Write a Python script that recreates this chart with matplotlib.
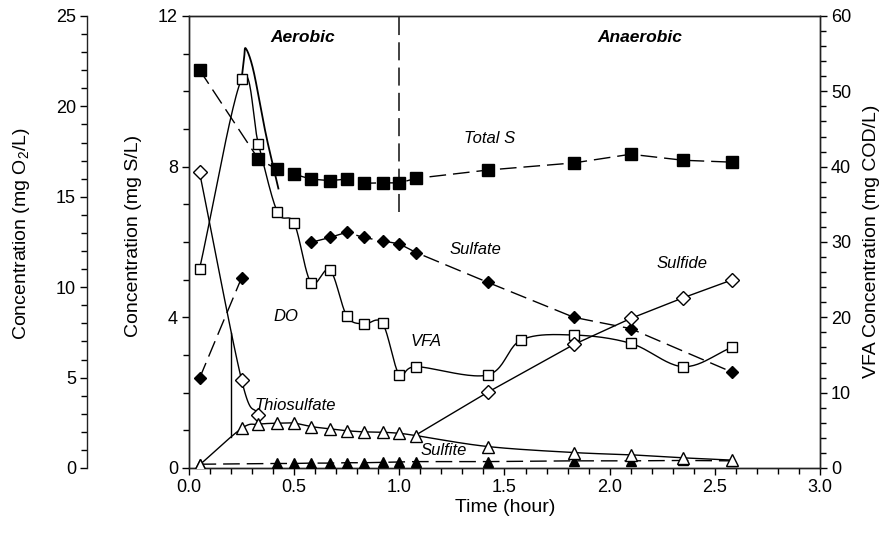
import numpy as np
import matplotlib
matplotlib.use("Agg")
import matplotlib.pyplot as plt
from matplotlib.ticker import MultipleLocator, FormatStrFormatter

plt.rcParams['font.family'] = ['Liberation Sans', 'DejaVu Sans']
plt.rcParams['mathtext.default'] = 'regular'

# ---------------- data ----------------
t_total = [0.05, 0.33, 0.42, 0.50, 0.58, 0.67, 0.75, 0.83, 0.92, 1.00, 1.08, 1.42, 1.83, 2.10, 2.35, 2.58]
total_s = [10.57, 8.20, 7.93, 7.80, 7.67, 7.63, 7.67, 7.56, 7.57, 7.57, 7.69, 7.91, 8.10, 8.33, 8.17, 8.12]

t_sulfate = [0.05, 0.25, 0.58, 0.67, 0.75, 0.83, 0.92, 1.00, 1.08, 1.42, 1.83, 2.10, 2.58]
sulfate = [2.38, 5.05, 5.99, 6.12, 6.26, 6.12, 6.03, 5.95, 5.72, 4.93, 4.00, 3.70, 2.55]

t_sulfide = [0.05, 0.25, 0.33, 1.08, 1.42, 1.83, 2.10, 2.35, 2.58]
sulfide = [7.85, 2.34, 1.41, 0.88, 2.01, 3.28, 3.97, 4.52, 4.99]

t_thio = [0.05, 0.25, 0.33, 0.42, 0.50, 0.58, 0.67, 0.75, 0.83, 0.92, 1.00, 1.08, 1.42, 1.83, 2.10, 2.35, 2.58]
thiosulfate = [0.08, 1.05, 1.16, 1.19, 1.19, 1.10, 1.04, 0.99, 0.96, 0.95, 0.92, 0.86, 0.57, 0.41, 0.35, 0.27, 0.21]

t_sulfite = [0.05, 0.42, 0.50, 0.58, 0.67, 0.75, 0.83, 0.92, 1.00, 1.08, 1.42, 1.83, 2.10, 2.35, 2.58]
sulfite = [0.10, 0.12, 0.12, 0.13, 0.13, 0.14, 0.14, 0.15, 0.16, 0.17, 0.17, 0.19, 0.19, 0.20, 0.19]

t_vfa = [0.05, 0.25, 0.33, 0.42, 0.50, 0.58, 0.67, 0.75, 0.83, 0.92, 1.00, 1.08, 1.42, 1.58, 1.83, 2.10, 2.35, 2.58]
vfa = [26.4, 51.6, 43.0, 34.0, 32.5, 24.6, 26.3, 20.2, 19.1, 19.2, 12.35, 13.45, 12.35, 17.0, 17.65, 16.55, 13.45, 16.0]

# second (overshooting) VFA trace near the peak
t_vfa_trace = [0.25, 0.262, 0.27, 0.306, 0.361, 0.393, 0.425]
vfa_trace = [51.6, 54.4, 55.7, 52.8, 44.9, 40.9, 37.1]

# short vertical trace at t = 0.2
t_step = [0.20, 0.20]
s_step = [0.82, 3.58]

phase_boundary = 1.0
phase_line_bottom = 6.8

labels = {
    "Total S": (1.43, 8.74), "Sulfate": (1.36, 5.81), "Sulfide": (2.344, 5.42),
    "VFA": (1.128, 3.37), "DO": (0.46, 4.03), "Thiosulfate": (0.506, 1.65),
    "Sulfite": (1.209, 0.46),
}
phases = {"Aerobic": (0.542, 11.44), "Anaerobic": (2.145, 11.44)}


def smooth(x, y, n=24):
    """Uniform Catmull-Rom curve through the data points (drawing only)."""
    p = np.column_stack([x, y]).astype(float)
    if len(p) < 3:
        return p[:, 0], p[:, 1]
    ext = np.vstack([2 * p[0] - p[1], p, 2 * p[-1] - p[-2]])
    out = []
    s = np.linspace(0, 1, n, endpoint=False)[:, None]
    for i in range(1, len(ext) - 2):
        p0, p1, p2, p3 = ext[i - 1], ext[i], ext[i + 1], ext[i + 2]
        c = 0.5 * ((2 * p1) + (-p0 + p2) * s + (2 * p0 - 5 * p1 + 4 * p2 - p3) * s ** 2
                   + (-p0 + 3 * p1 - 3 * p2 + p3) * s ** 3)
        out.append(c)
    out.append(p[-1][None, :])
    out = np.vstack(out)
    return out[:, 0], out[:, 1]


# ---------------- figure ----------------
W, H = 895, 548
fig = plt.figure(figsize=(W / 100, H / 100), dpi=100)
ax = fig.add_axes([189 / W, 1 - 468 / H, 631 / W, 452 / H])
ax_vfa = ax.twinx()
ax_do = ax.twinx()

FS_TICK = 13
FS_LAB = 14
FS_ANN = 12
LW = 1.0
dash = (0, (12, 5))

ax.set_zorder(ax_vfa.get_zorder() + 1)
ax.patch.set_visible(False)

# VFA on right axis
xs, ys = smooth(t_vfa, vfa)
ax_vfa.plot(xs, ys, color='black', lw=LW, zorder=2)
xs, ys = smooth(t_vfa_trace, vfa_trace)
ax_vfa.plot(xs, ys, color='black', lw=1.3, zorder=2)
ax_vfa.plot(t_vfa, vfa, ls='none', marker='s', ms=7.5, mfc='white', mec='black', mew=1.0, zorder=3)

# Total S
ax.plot(t_total, total_s, color='black', lw=LW, ls=dash, marker='s', ms=8,
        mfc='black', mec='black', zorder=4)

# Sulfate (two visible pieces)
ax.plot(t_sulfate[:2], sulfate[:2], color='black', lw=LW, ls=dash, zorder=4)
ax.plot(t_sulfate[2:], sulfate[2:], color='black', lw=LW, ls=dash, zorder=4)
ax.plot(t_sulfate, sulfate, ls='none', marker='D', ms=6.3, mfc='black', mec='black', zorder=5)

# Sulfide
xs, ys = smooth(t_sulfide[:3], sulfide[:3])
ax.plot(xs, ys, color='black', lw=LW, zorder=4)
ax.plot(t_sulfide[3:], sulfide[3:], color='black', lw=LW, zorder=4)
ax.plot([t_sulfide[i] for i in (0, 1, 2, 4, 5, 6, 7, 8)],
        [sulfide[i] for i in (0, 1, 2, 4, 5, 6, 7, 8)],
        ls='none', marker='D', ms=6.8, mfc='white', mec='black', mew=1.0, zorder=6)

# Thiosulfate
xs, ys = smooth(t_thio, thiosulfate)
ax.plot(xs, ys, color='black', lw=LW, zorder=4)
ax.plot(t_thio, thiosulfate, ls='none', marker='^', ms=9, mfc='white', mec='black', mew=1.0, zorder=6)
ax.plot(t_step, s_step, color='black', lw=LW, zorder=4)

# Sulfite
ax.plot(t_sulfite, sulfite, color='black', lw=LW, ls=dash, marker='^', ms=7,
        mfc='black', mec='black', zorder=5)

# phase boundary
ax.plot([phase_boundary, phase_boundary], [phase_line_bottom, 12], color='#333333',
        lw=1.3, ls=(0, (10, 4)), zorder=3)

for k, (x, y) in labels.items():
    ax.text(x, y, k, fontsize=FS_ANN, style='italic', ha='center', va='center', zorder=7)
for k, (x, y) in phases.items():
    ax.text(x, y, k, fontsize=FS_ANN + 0.5, style='italic', weight='bold', ha='center', va='center')

# ---------------- axes formatting ----------------
ax.set_xlim(0, 3)
ax.set_ylim(0, 12)
ax_vfa.set_ylim(0, 60)
ax_do.set_ylim(0, 25)

ax.xaxis.set_major_locator(MultipleLocator(0.5))
ax.xaxis.set_minor_locator(MultipleLocator(0.1))
ax.xaxis.set_major_formatter(FormatStrFormatter('%.1f'))
ax.yaxis.set_major_locator(MultipleLocator(4))
ax.yaxis.set_minor_locator(MultipleLocator(1))
ax_vfa.yaxis.set_major_locator(MultipleLocator(10))
ax_vfa.yaxis.set_minor_locator(MultipleLocator(2))
ax_do.yaxis.set_major_locator(MultipleLocator(5))
ax_do.yaxis.set_minor_locator(MultipleLocator(1))

for a in (ax, ax_vfa, ax_do):
    a.tick_params(which='major', direction='out', length=5, width=1, labelsize=FS_TICK,
                  colors='black', pad=3)
    a.tick_params(which='minor', direction='out', length=4, width=1)
    for sp in a.spines.values():
        sp.set_linewidth(1.0)
        sp.set_color('#222222')

ax_do.spines['left'].set_position(('axes', -102 / 631))
ax_do.spines['left'].set_visible(True)
for s in ('right', 'top', 'bottom'):
    ax_do.spines[s].set_visible(False)
ax_do.yaxis.set_ticks_position('left')

# axis titles placed at their pixel positions
fig.text(505 / W, 1 - 508 / H, 'Time (hour)', fontsize=FS_LAB, ha='center', va='center')
fig.text(134 / W, 1 - 236 / H, 'Concentration (mg S/L)', fontsize=FS_LAB, ha='center',
         va='center', rotation=90)
fig.text(22 / W, 1 - 234 / H, 'Concentration (mg O$_2$/L)', fontsize=FS_LAB, ha='center',
         va='center', rotation=90)
fig.text(872 / W, 1 - 241 / H, 'VFA Concentration (mg COD/L)', fontsize=FS_LAB, ha='center',
         va='center', rotation=90)

fig.savefig('out.png', dpi=100)
